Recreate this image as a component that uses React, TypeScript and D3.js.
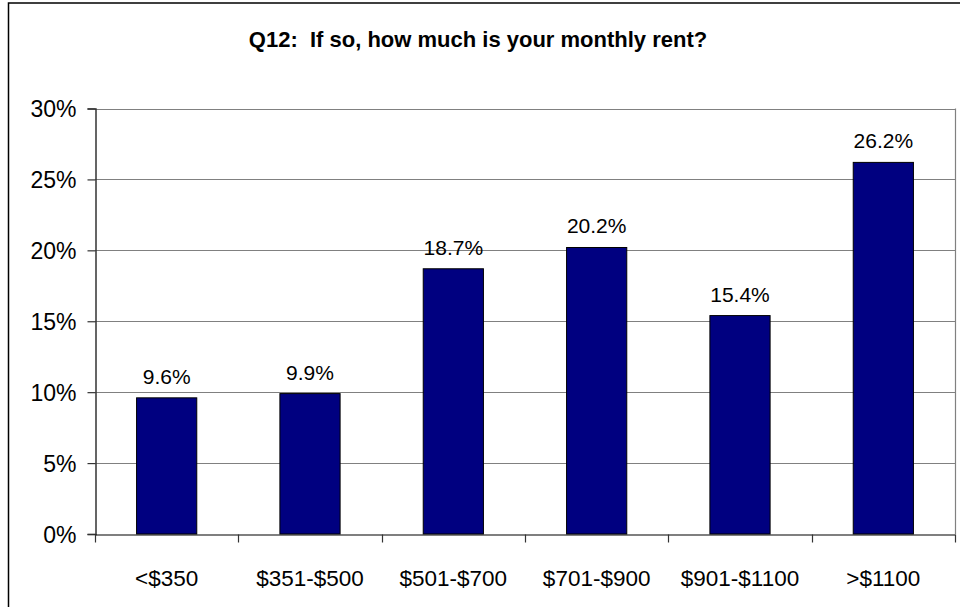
import React, { useEffect, useRef } from 'react';
import * as d3 from 'd3';

const categories = ['<$350', '$351-$500', '$501-$700', '$701-$900', '$901-$1100', '>$1100'];
const values = [9.6, 9.9, 18.7, 20.2, 15.4, 26.2];
const yTicks = [0, 5, 10, 15, 20, 25, 30];
const title = 'Q12:  If so, how much is your monthly rent?';

export default function App() {
  const svgRef = useRef<SVGSVGElement | null>(null);

  useEffect(() => {
    if (!svgRef.current) return;
    const svg = d3.select(svgRef.current);
    svg.selectAll('*').remove();

    const width = 960;
    const height = 607;
    const margin = { top: 108.5, right: 5, bottom: 73, left: 95 };
    const font = 'Arial, "Liberation Sans", sans-serif';

    // Outer chart border (runs off the right and bottom edge)
    svg.append('rect')
      .attr('x', 8.5)
      .attr('y', 3)
      .attr('width', 980)
      .attr('height', 640)
      .attr('fill', 'white')
      .attr('stroke', '#000')
      .attr('stroke-width', 1.5);

    svg.append('text')
      .attr('x', 478)
      .attr('y', 46.5)
      .attr('text-anchor', 'middle')
      .attr('font-family', font)
      .attr('font-weight', 'bold')
      .attr('font-size', 22)
      .style('white-space', 'pre')
      .text(title);

    const x = d3.scaleBand<string>()
      .domain(categories)
      .range([margin.left, width - margin.right])
      .paddingInner(0)
      .paddingOuter(0);

    const y = d3.scaleLinear()
      .domain([0, 30])
      .range([height - margin.bottom, margin.top]);

    // Gridlines
    svg.append('g')
      .selectAll('line')
      .data(yTicks.filter(d => d > 0))
      .join('line')
      .attr('x1', margin.left)
      .attr('x2', width - margin.right)
      .attr('y1', d => Math.round(y(d)) + 0.5)
      .attr('y2', d => Math.round(y(d)) + 0.5)
      .attr('stroke', '#808080')
      .attr('stroke-width', 1.2);

    // Right border of plot area
    svg.append('line')
      .attr('x1', width - margin.right + 0.5)
      .attr('x2', width - margin.right + 0.5)
      .attr('y1', margin.top)
      .attr('y2', y(0))
      .attr('stroke', '#808080')
      .attr('stroke-width', 1.2);

    // Bars
    const barW = x.bandwidth() * 0.42;
    svg.append('g')
      .selectAll('rect')
      .data(values)
      .join('rect')
      .attr('x', (d, i) => x(categories[i])! + (x.bandwidth() - barW) / 2)
      .attr('y', d => y(d))
      .attr('width', barW)
      .attr('height', d => y(0) - y(d))
      .attr('fill', '#000080')
      .attr('stroke', '#000')
      .attr('stroke-width', 1);

    // Value labels
    svg.append('g')
      .selectAll('text')
      .data(values)
      .join('text')
      .attr('x', (d, i) => x(categories[i])! + x.bandwidth() / 2)
      .attr('y', d => y(d) - 14)
      .attr('text-anchor', 'middle')
      .attr('font-family', font)
      .attr('font-size', 21)
      .text(d => `${d.toFixed(1)}%`);

    // Y axis
    const yAxis = svg.append('g')
      .attr('transform', `translate(${margin.left + 0.5},0)`)
      .call(d3.axisLeft(y).tickValues(yTicks).tickSize(8).tickPadding(11).tickFormat(d => `${d}%`));
    yAxis.select('.domain').attr('stroke', '#333').attr('stroke-width', 1.5);
    yAxis.selectAll('.tick line').attr('stroke', '#333').attr('stroke-width', 1.2);
    yAxis.selectAll('.tick text')
      .attr('font-family', font)
      .attr('font-size', 23)
      .attr('fill', '#000')
      .attr('dy', '0.36em');

    // X axis
    const xAxis = svg.append('g')
      .attr('transform', `translate(0,${y(0) + 0.5})`)
      .call(d3.axisBottom(x).tickSize(0).tickPadding(36));
    xAxis.select('.domain').attr('stroke', '#000').attr('stroke-width', 1.2);
    xAxis.selectAll('.tick text')
      .attr('font-family', font)
      .attr('font-size', 22.5)
      .attr('fill', '#000');

    const bounds = categories.map(c => x(c)!).concat([width - margin.right]);
    xAxis.append('g')
      .selectAll('line')
      .data(bounds)
      .join('line')
      .attr('x1', d => Math.round(d) + 0.5)
      .attr('x2', d => Math.round(d) + 0.5)
      .attr('y1', 0)
      .attr('y2', 8)
      .attr('stroke', '#333')
      .attr('stroke-width', 1.2);
  }, []);

  return (
    <svg
      ref={svgRef}
      width={960}
      height={607}
      style={{ position: 'absolute', left: 0, top: 0, background: 'white' }}
    />
  );
}
